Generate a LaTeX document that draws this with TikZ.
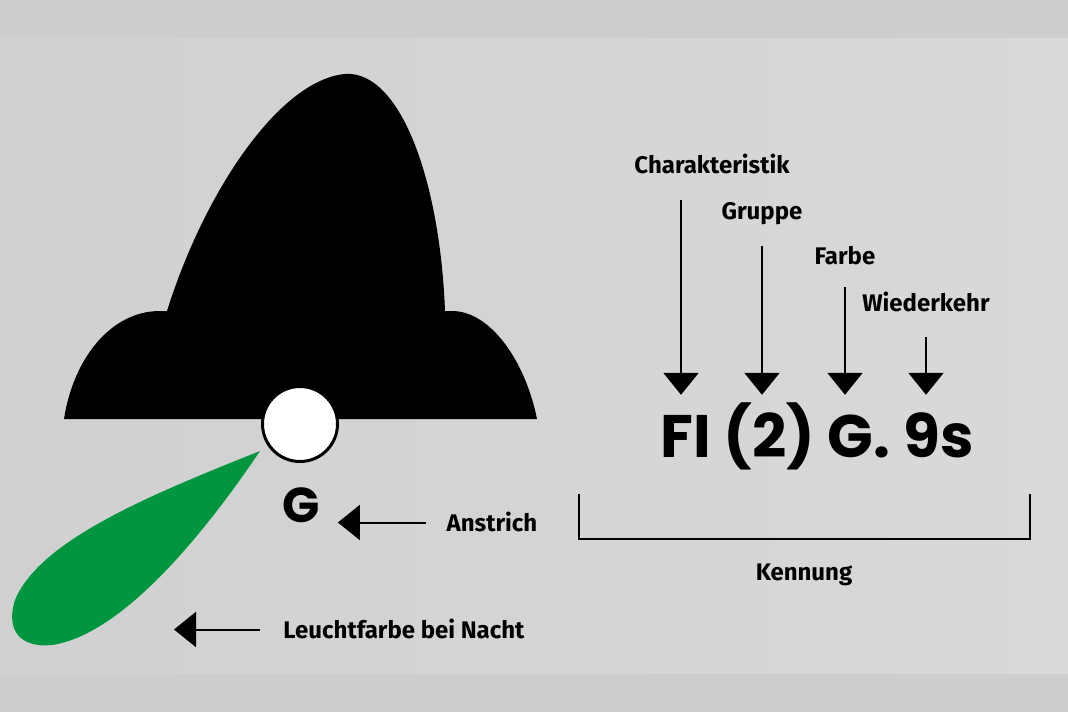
\documentclass[tikz,border=0pt]{standalone}
\usepackage{fontspec}
\setmainfont{Fira Sans}
\newfontfamily\codefont{Poppins}
\usetikzlibrary{arrows.meta,positioning}

\definecolor{bandgrau}{RGB}{205,205,205}
\definecolor{grauL}{RGB}{208,208,208}
\definecolor{grauR}{RGB}{217,217,217}
\definecolor{leuchtgruen}{RGB}{0,150,64}

\tikzset{
  beschriftung/.style={font=\bfseries\fontsize{24}{24}\selectfont,inner sep=0pt,
    text height=17pt,text depth=0pt,anchor=base},
  pfeil/.style={line width=2pt,-{Triangle[width=35pt,length=22pt]}},
  klammer/.style={line width=2pt}
}

\begin{document}
\begin{tikzpicture}[x=1pt,y=-1pt]
    \useasboundingbox (0,0) rectangle (1068,712);
    \fill[bandgrau] (0,0) rectangle (1068,712);
    \shade[left color=grauL,right color=grauR] (0,38) rectangle (1068,673);

    % Tonne mit Toppzeichen
    \fill[black] (64,419) .. controls (73,360) and (110,311) .. (160,311) -- (167,311)
      .. controls (205,190) and (280,80) .. (345,74)
      .. controls (400,70) and (440,180) .. (445,311) -- (452,311)
      .. controls (490,311) and (525,360) .. (537,419) -- cycle;
    \fill[leuchtgruen] (260,451) .. controls (150,495) and (40,540) .. (15,600)
      .. controls (5,632) and (22,648) .. (52,645)
      .. controls (120,635) and (200,540) .. (260,451) -- cycle;
    \draw[fill=white,line width=3pt] (300,424) circle[radius=37.5];

    \node[font=\codefont\bfseries\fontsize{60}{60}\selectfont,inner sep=0pt,
      text height=42pt,text depth=0pt,anchor=base] (code) at (817,457) {FI (2) G. 9s};
    \node[font=\codefont\bfseries\fontsize{49}{49}\selectfont,inner sep=0pt,
      anchor=base] (g) at (301,522) {G};

    \node[beschriftung] (charakteristik) at (712,173) {Charakteristik};
    \node[beschriftung] (gruppe) at (762,219) {Gruppe};
    \node[beschriftung] (farbe) at (845,264) {Farbe};
    \node[beschriftung] (wiederkehr) at (926,311) {Wiederkehr};
    \node[beschriftung] (anstrich) at (492,531) {Anstrich};
    \node[beschriftung] (leucht) at (404,638) {Leuchtfarbe bei Nacht};
    \node[beschriftung] (kennung) at (804,580) {Kennung};
    \coordinate (lichtpfeil) at (174,629);
    \coordinate (klammerL) at (579,494);
    \coordinate (klammerR) at (1030,494);

    \draw[pfeil] ([shift={(-31pt,-27pt)}]charakteristik.base)
      -- ([xshift=-31pt,yshift=20pt]charakteristik.base |- code.north);
    \draw[pfeil] ([yshift=-27pt]gruppe.base) -- ([yshift=20pt]gruppe.base |- code.north);
    \draw[pfeil] ([yshift=-23pt]farbe.base) -- ([yshift=20pt]farbe.base |- code.north);
    \draw[pfeil] ([yshift=-26pt]wiederkehr.base) -- ([yshift=20pt]wiederkehr.base |- code.north);
    \draw[pfeil] ([xshift=-21pt]anstrich.west) -- ([xshift=18pt]g.east |- anstrich.west);
    \draw[pfeil] ([xshift=-23pt]leucht.west) -- (lichtpfeil |- leucht.west);
    \draw[klammer] (klammerL) -- ++(0,45) -| (klammerR);
\end{tikzpicture}
\end{document}
